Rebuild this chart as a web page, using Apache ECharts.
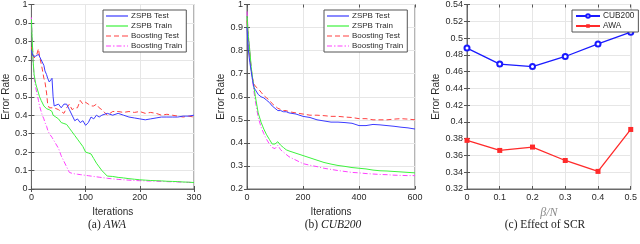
<!DOCTYPE html>
<html><head><meta charset="utf-8">
<script src="https://cdn.jsdelivr.net/npm/echarts@6/dist/echarts.min.js"></script>
<style>html,body{margin:0;padding:0;background:#fff}#c{width:640px;height:244px}</style>
</head><body><div id="c"></div>
<script>
// ---- (a) AWA ----
const awaIter = [0,3,5,8,10,13,15,18,20,23,25,28,30,33,35,38,40,42,45,50,55,60,65,70,75,80,85,90,95,100,105,110,115,120,125,130,140,150,160,170,180,190,200,210,220,230,240,250,260,270,280,290,300];
const awaZspbTest = [0.75,0.72,0.71,0.72,0.73,0.73,0.72,0.70,0.69,0.67,0.64,0.62,0.60,0.58,0.59,0.60,0.50,0.45,0.44,0.46,0.44,0.46,0.46,0.43,0.40,0.37,0.38,0.36,0.37,0.345,0.36,0.39,0.38,0.40,0.39,0.40,0.41,0.40,0.41,0.40,0.39,0.385,0.38,0.375,0.38,0.385,0.39,0.39,0.39,0.39,0.395,0.395,0.40];
const awaZspbTrain = [0.92,0.70,0.62,0.57,0.55,0.52,0.50,0.48,0.47,0.45,0.44,0.435,0.435,0.43,0.43,0.42,0.40,0.395,0.39,0.38,0.36,0.355,0.35,0.33,0.31,0.29,0.27,0.25,0.23,0.20,0.195,0.19,0.165,0.14,0.12,0.10,0.07,0.068,0.063,0.06,0.056,0.053,0.05,0.048,0.046,0.045,0.044,0.042,0.041,0.04,0.038,0.037,0.035];
const awaBoostTest = [0.77,0.74,0.71,0.72,0.73,0.76,0.72,0.68,0.65,0.60,0.58,0.52,0.46,0.44,0.45,0.44,0.43,0.44,0.43,0.43,0.42,0.41,0.44,0.46,0.43,0.44,0.44,0.48,0.46,0.47,0.46,0.45,0.45,0.46,0.44,0.43,0.40,0.42,0.42,0.415,0.42,0.415,0.42,0.41,0.415,0.41,0.40,0.405,0.40,0.395,0.39,0.395,0.39];
const awaBoostTrain = [0.93,0.70,0.60,0.55,0.52,0.48,0.45,0.42,0.40,0.38,0.36,0.34,0.32,0.30,0.29,0.28,0.27,0.26,0.245,0.22,0.18,0.15,0.12,0.09,0.085,0.082,0.08,0.078,0.076,0.074,0.072,0.07,0.068,0.066,0.064,0.062,0.058,0.055,0.052,0.05,0.048,0.046,0.045,0.044,0.043,0.042,0.041,0.04,0.039,0.038,0.037,0.036,0.035];
// ---- (b) CUB200 ----
const cubIter = [0,5,10,15,20,25,30,40,50,60,70,80,90,100,110,120,130,140,150,175,200,225,250,275,300,325,350,375,400,425,450,475,500,525,550,575,600];
const cubZspbTest = [0.90,0.80,0.75,0.71,0.67,0.64,0.63,0.61,0.60,0.595,0.585,0.575,0.56,0.55,0.54,0.54,0.535,0.535,0.53,0.525,0.515,0.51,0.50,0.495,0.49,0.49,0.488,0.485,0.475,0.475,0.48,0.478,0.475,0.472,0.468,0.465,0.46];
const cubZspbTrain = [0.95,0.86,0.80,0.73,0.68,0.64,0.60,0.53,0.49,0.46,0.435,0.415,0.395,0.395,0.405,0.39,0.38,0.37,0.365,0.355,0.345,0.335,0.325,0.315,0.308,0.302,0.298,0.293,0.29,0.287,0.282,0.279,0.278,0.276,0.274,0.272,0.27];
const cubBoostTest = [0.93,0.85,0.78,0.72,0.68,0.655,0.645,0.635,0.62,0.605,0.595,0.585,0.57,0.56,0.55,0.545,0.54,0.54,0.535,0.53,0.525,0.52,0.52,0.518,0.515,0.515,0.512,0.51,0.505,0.505,0.50,0.50,0.50,0.503,0.505,0.503,0.50];
const cubBoostTrain = [0.97,0.87,0.80,0.72,0.67,0.62,0.58,0.51,0.47,0.44,0.415,0.395,0.38,0.375,0.39,0.37,0.36,0.35,0.34,0.325,0.31,0.303,0.297,0.29,0.285,0.28,0.276,0.272,0.27,0.267,0.265,0.263,0.262,0.26,0.259,0.258,0.258];
// ---- (c) Effect of SCR ----
const betaN = [0,0.1,0.2,0.3,0.4,0.5];
const scrCub = [0.488,0.469,0.466,0.478,0.493,0.507];
const scrAwa = [0.378,0.366,0.370,0.354,0.341,0.391];

const seriesNames = ['ZSPB Test','ZSPB Train','Boosting Test','Boosting Train'];
const scrNames = ['CUB200','AWA'];

const zip = (xs, ys) => xs.map((x, i) => [x, ys[i]]);
const fmt = v => String(parseFloat(Number(v).toFixed(2)));
const TXT = '#2b2b2b';
const sans = 'Liberation Sans';
const serif = 'Liberation Serif';

const grids = [
  {left:26, top:4, width:168, height:185},
  {left:247, top:4, width:168, height:185},
  {left:467, top:4, width:169, height:185}
];
grids.forEach(g => Object.assign(g, {show:true, borderColor:'#6a6a6a', borderWidth:1, containLabel:false}));

const base = {
  axisLine:{show:true, lineStyle:{color:'#6a6a6a', width:1}},
  axisTick:{show:true, inside:true, length:3, lineStyle:{color:'#555'}},
  splitLine:{show:true, lineStyle:{color:'#e6e6e6', width:1}},
  axisLabel:{fontFamily:sans, fontSize:9, color:TXT, margin:4, formatter:fmt},
  nameTextStyle:{fontFamily:sans, fontSize:10, color:TXT}
};
function ax(o){
  const a = Object.assign({type:'value'}, {
    axisLine:base.axisLine, axisTick:base.axisTick, splitLine:base.splitLine,
    nameTextStyle:base.nameTextStyle}, o);
  a.axisLabel = Object.assign({}, base.axisLabel, o.axisLabel || {});
  return a;
}
function mirror(o){ return Object.assign({type:'value'}, o, {axisLabel:{show:false}, splitLine:{show:false}, axisLine:{show:false}, axisTick:{show:true, inside:true, length:3, lineStyle:{color:'#555'}}}); }

const xDefs = [
  {gridIndex:0, min:0, max:300, interval:100},
  {gridIndex:1, min:0, max:600, interval:200},
  {gridIndex:2, min:0, max:0.5, interval:0.1}
];
const yDefs = [
  {gridIndex:0, min:0, max:1, interval:0.1},
  {gridIndex:1, min:0.2, max:1, interval:0.1},
  {gridIndex:2, min:0.32, max:0.54, interval:0.02}
];

const xAxis = [
  ax(Object.assign({}, xDefs[0], {name:'Iterations', nameLocation:'middle', nameGap:13})),
  ax(Object.assign({}, xDefs[1], {name:'Iterations', nameLocation:'middle', nameGap:13})),
  ax(Object.assign({}, xDefs[2], {name:'β/N', nameLocation:'middle', nameGap:9,
     nameTextStyle:{fontFamily:serif, fontStyle:'italic', fontSize:12, color:'#8a8a8a'}})),
  mirror(Object.assign({position:'top'}, xDefs[0])),
  mirror(Object.assign({position:'top'}, xDefs[1])),
  mirror(Object.assign({position:'top'}, xDefs[2]))
];
const yAxis = [
  ax(Object.assign({}, yDefs[0], {name:'Error Rate', nameLocation:'middle', nameGap:13})),
  ax(Object.assign({}, yDefs[1], {name:'Error Rate', nameLocation:'middle', nameGap:18})),
  ax(Object.assign({}, yDefs[2], {name:'Error Rate', nameLocation:'middle', nameGap:22})),
  mirror(Object.assign({position:'right'}, yDefs[0])),
  mirror(Object.assign({position:'right'}, yDefs[1])),
  mirror(Object.assign({position:'right'}, yDefs[2]))
];

const styles = [
  {color:'#3b3bff', type:'solid'},
  {color:'#3df23d', type:'solid'},
  {color:'#ff4040', type:[5,3]},
  {color:'#ff40ff', type:[5,2,1,2]}
];
// legend glyphs mirroring each line style (solid, solid, dashed, dash-dot)
const legendIcons = [
  'rect',
  'rect',
  'path://M0,0h5v1h-5zM8,0h5v1h-5zM16,0h6v1h-6z',
  'path://M0,0h5v1h-5zM7,0h1.5v1h-1.5zM10.5,0h5v1h-5zM17.5,0h1.5v1h-1.5zM21,0h1v1h-1z'
];
function lineSeries(name, idx, gi, data){
  return {name, type:'line', xAxisIndex:gi, yAxisIndex:gi, data, symbol:'none', showSymbol:false,
    lineStyle:{color:styles[idx].color, width:1, type:styles[idx].type}, itemStyle:{color:styles[idx].color},
    animation:false, z: 10 - idx};
}
const series = [
  lineSeries(seriesNames[0], 0, 0, zip(awaIter, awaZspbTest)),
  lineSeries(seriesNames[1], 1, 0, zip(awaIter, awaZspbTrain)),
  lineSeries(seriesNames[2], 2, 0, zip(awaIter, awaBoostTest)),
  lineSeries(seriesNames[3], 3, 0, zip(awaIter, awaBoostTrain)),
  lineSeries(seriesNames[0], 0, 1, zip(cubIter, cubZspbTest)),
  lineSeries(seriesNames[1], 1, 1, zip(cubIter, cubZspbTrain)),
  lineSeries(seriesNames[2], 2, 1, zip(cubIter, cubBoostTest)),
  lineSeries(seriesNames[3], 3, 1, zip(cubIter, cubBoostTrain)),
  {name:scrNames[0], type:'line', xAxisIndex:2, yAxisIndex:2, data:zip(betaN, scrCub),
   symbol:'emptyCircle', symbolSize:5, lineStyle:{color:'#1a1aff', width:1.3}, itemStyle:{color:'#1a1aff', borderWidth:1.2}, animation:false},
  {name:scrNames[1], type:'line', xAxisIndex:2, yAxisIndex:2, data:zip(betaN, scrAwa),
   symbol:'rect', symbolSize:5, lineStyle:{color:'#ff2a2a', width:1.3}, itemStyle:{color:'#ff2a2a'}, animation:false}
];

const legBase = {orient:'vertical', backgroundColor:'#fff', borderColor:'#555', borderWidth:1, borderRadius:0,
  padding:[1,4,1,3], itemGap:0, itemWidth:22, itemHeight:1.2, selectedMode:false,
  textStyle:{fontFamily:sans, fontSize:8, color:TXT, lineHeight:10, padding:[0,0,0,-2]}};
const legData = seriesNames.map((n, i) => ({name:n, icon:legendIcons[i]}));
const legend = [
  Object.assign({}, legBase, {left:103, top:10, data:legData}),
  Object.assign({}, legBase, {left:324, top:10, data:legData}),
  Object.assign({}, legBase, {left:572, top:10, data:scrNames, itemHeight:4.5, itemWidth:24,
    textStyle:{fontFamily:sans, fontSize:8.3, color:TXT, lineHeight:10, padding:[0,0,0,-2]}})
];

const capStyle = {fontFamily:serif, fontSize:11.5, fill:'#222', align:'center', verticalAlign:'middle'};
const graphic = [
  {type:'text', x:107, y:225, style:Object.assign({}, capStyle, {text:'(a) {i|AWA}', rich:{i:{fontFamily:serif, fontStyle:'italic', fontSize:11.5, fill:'#222'}}})},
  {type:'text', x:333, y:225, style:Object.assign({}, capStyle, {text:'(b) {i|CUB200}', rich:{i:{fontFamily:serif, fontStyle:'italic', fontSize:11.5, fill:'#222'}}})},
  {type:'text', x:545, y:225, style:Object.assign({}, capStyle, {text:'(c) Effect of SCR'})}
];

const chart = echarts.init(document.getElementById('c'), null, {renderer:'canvas'});
chart.setOption({animation:false, grid:grids, xAxis, yAxis, series, legend, graphic});
</script></body></html>
